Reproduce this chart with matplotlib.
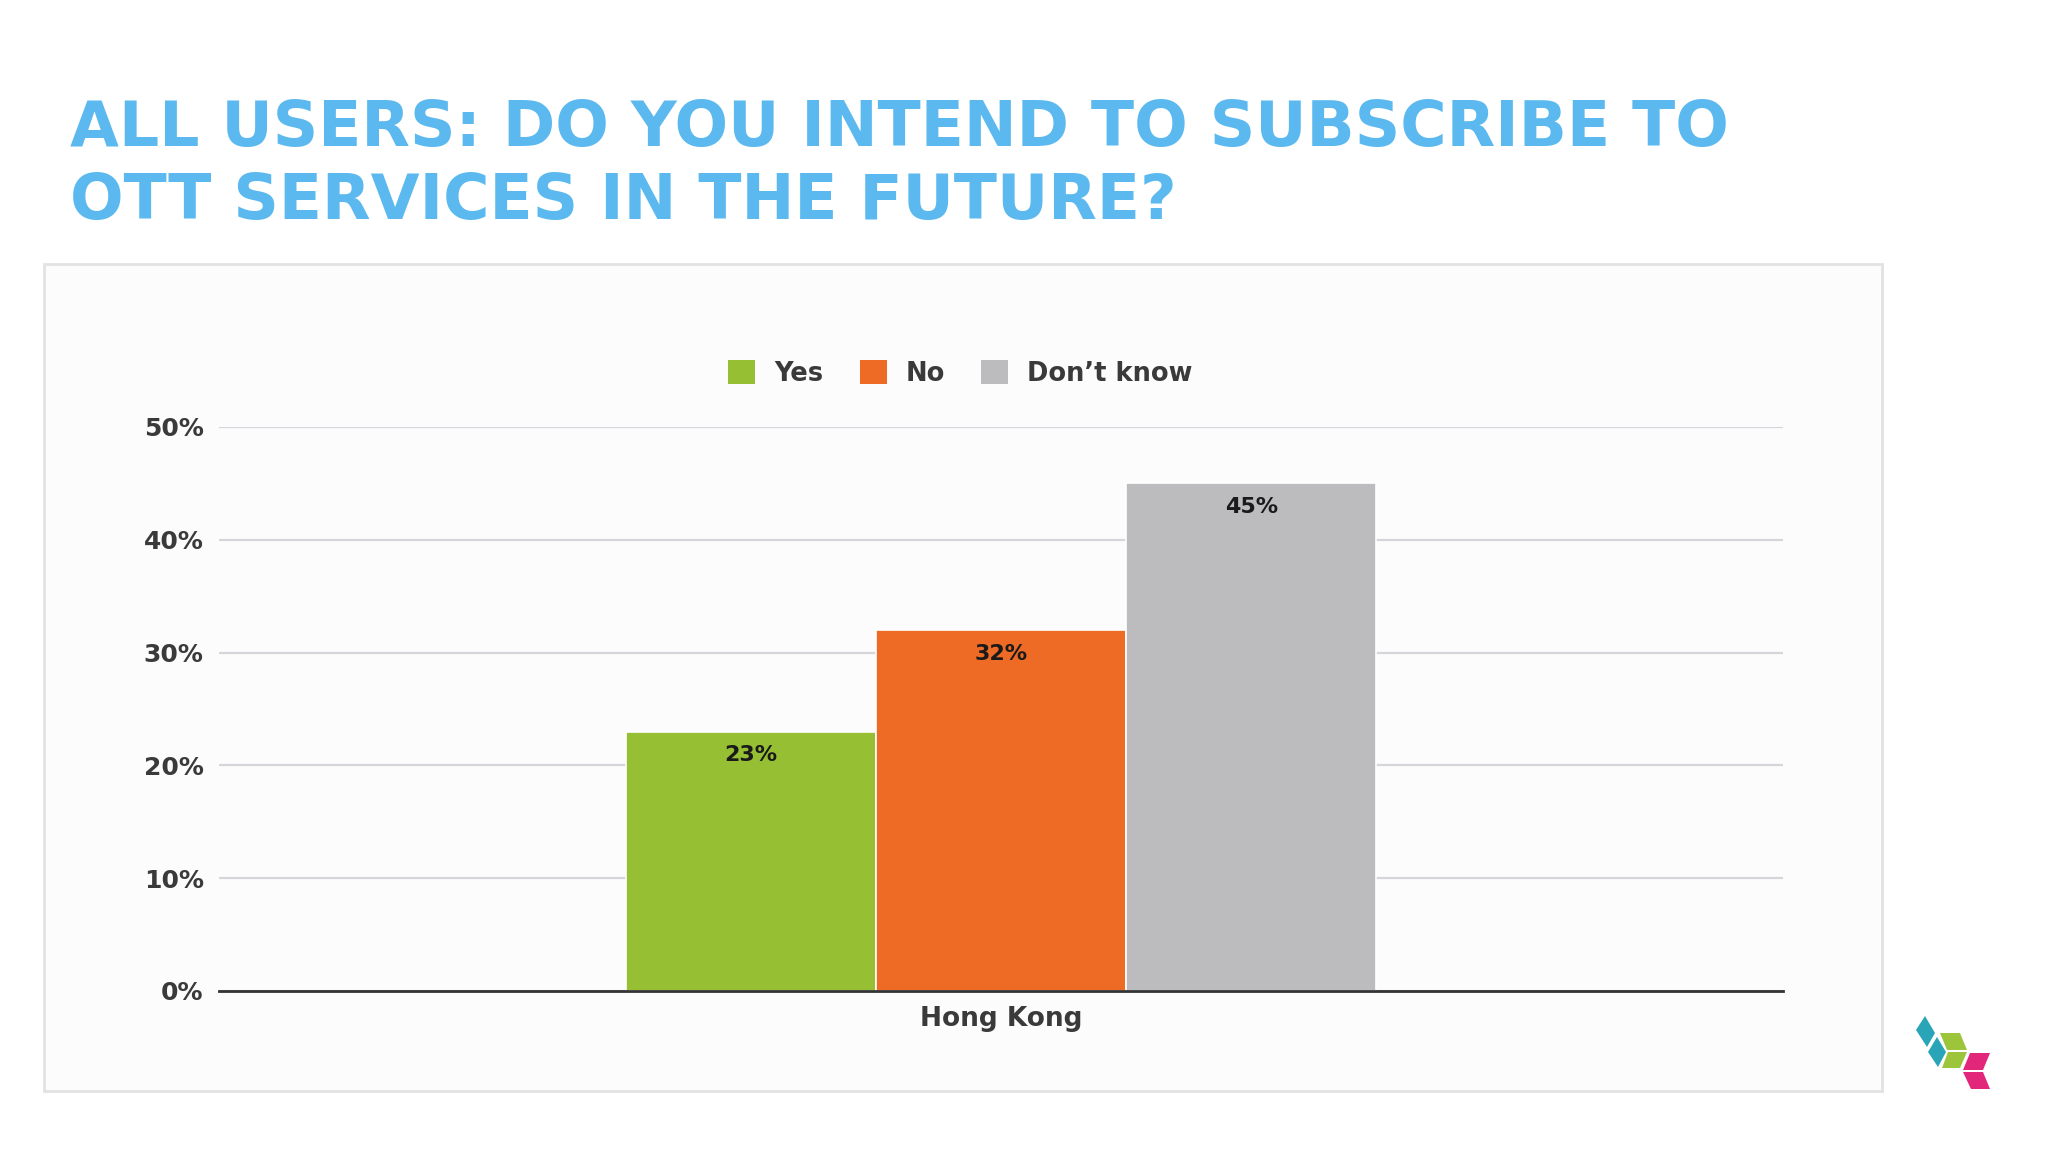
import matplotlib
matplotlib.use("Agg")
import matplotlib.pyplot as plt
from matplotlib.patches import Rectangle, Polygon, Patch

# data
categories = ["Hong Kong"]
series_names = ["Yes", "No", "Don\u2019t know"]
series_values = [23, 32, 45]
series_colors = ["#96bf33", "#ee6b26", "#bcbbbe"]
yticks = [0, 10, 20, 30, 40, 50]
title_lines = ["ALL USERS: DO YOU INTEND TO SUBSCRIBE TO",
               "OTT SERVICES IN THE FUTURE?"]

plt.rcParams['font.family'] = ['DejaVu Sans']
txt_col = "#3a3a3a"

fig = plt.figure(figsize=(20.48, 11.52), dpi=100)
fig.patch.set_facecolor("white")

# light panel behind the chart
fig.patches.append(Rectangle((0.0215, 0.053), 0.8975, 0.718, transform=fig.transFigure,
                             facecolor="#fdfcfd", edgecolor="#e2e2e2", linewidth=2, zorder=0))

# title
title_col = "#5bb9ef"
fig.text(0.034, 0.873, title_lines[0], fontsize=45.5, fontweight="heavy", color=title_col, va="baseline")
fig.text(0.034, 0.810, title_lines[1], fontsize=45.5, fontweight="heavy", color=title_col, va="baseline")

ax = fig.add_axes([0.1069, 0.1398, 0.7637, 0.4896])
ax.set_zorder(3)
ax.set_facecolor("none")

width = 0.16
n = len(series_values)
handles = []
for i in range(n):
    off = (i - (n - 1) / 2) * width
    ax.bar(0 + off, series_values[i], width=width, color=series_colors[i],
           edgecolor="white", linewidth=1.2, zorder=3)
    ax.annotate("%d%%" % series_values[i], xy=(0 + off, series_values[i]), xytext=(0, -17),
                textcoords="offset points", ha="center", va="center", fontsize=16,
                fontweight="bold", color="#1a1a1a", zorder=4)
    handles.append(Patch(facecolor=series_colors[i], edgecolor="none", label=series_names[i]))

ax.set_xlim(-0.5, 0.5)
ax.set_ylim(0, 50)
ax.set_yticks(yticks)
ax.set_yticklabels(["%d%%" % t for t in yticks])
ax.set_xticks([0])
ax.set_xticklabels(categories)
ax.yaxis.grid(True, color="#d6d5d9", linewidth=1.6, zorder=0)
ax.set_axisbelow(True)
for s in ["top", "right", "left"]:
    ax.spines[s].set_visible(False)
ax.spines["bottom"].set_color("#333333")
ax.spines["bottom"].set_linewidth(2)
ax.spines["bottom"].set_zorder(5)
ax.tick_params(axis="y", length=0, pad=11, labelsize=18, labelcolor=txt_col)
ax.tick_params(axis="x", length=0, pad=11, labelsize=19, labelcolor=txt_col)
for lab in ax.get_yticklabels() + ax.get_xticklabels():
    lab.set_fontweight("bold")

leg = fig.legend(handles=handles, loc="center", bbox_to_anchor=(0.469, 0.676), ncol=3,
                 frameon=False, fontsize=18.5, handlelength=1.05, handleheight=1.05,
                 handletextpad=0.75, columnspacing=1.4)
for t in leg.get_texts():
    t.set_fontweight("bold")
    t.set_color(txt_col)

# small logo bottom right
logo = [
    ("#2aa5b8", [(1925, 1016), (1935, 1033), (1927, 1047), (1916, 1030)]),
    ("#2aa5b8", [(1937, 1037), (1946, 1052), (1938, 1067), (1928, 1052)]),
    ("#9dc53b", [(1940, 1033), (1960, 1033), (1967, 1050), (1947, 1050)]),
    ("#9dc53b", [(1948, 1052), (1967, 1052), (1960, 1068), (1942, 1068)]),
    ("#e2267a", [(1970, 1053), (1990, 1053), (1983, 1070), (1963, 1070)]),
    ("#e2267a", [(1963, 1072), (1983, 1072), (1990, 1089), (1971, 1089)]),
]
for col, pts in logo:
    xy = [(px / 2048, 1 - py / 1152) for px, py in pts]
    fig.patches.append(Polygon(xy, closed=True, transform=fig.transFigure,
                               facecolor=col, edgecolor="none"))

fig.savefig("out.png", dpi=100)
